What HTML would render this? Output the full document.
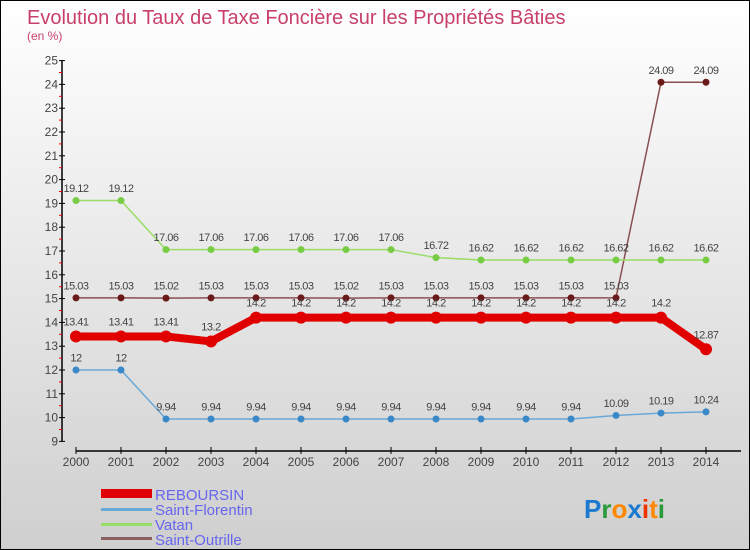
<!DOCTYPE html>
<html><head><meta charset="utf-8"><style>
body{margin:0}
#c{width:748px;height:548px;border:1px solid #000;background:linear-gradient(#fff,#cfcfcf);position:relative;overflow:hidden;font-family:"Liberation Sans",sans-serif}
</style></head><body>
<div id="c">
<svg id="s" width="748" height="548" xmlns="http://www.w3.org/2000/svg" style="position:absolute;left:0;top:0">
<text x="26" y="23" font-size="20" fill="#c8406a">Evolution du Taux de Taxe Foncière sur les Propriétés Bâties</text>
<text x="26" y="39" font-size="12" fill="#c8406a">(en %)</text>
<g id="axes"></g><g id="series"></g>
<g font-size="15" fill="#6666ee">
<rect x="100" y="488" width="51" height="9" fill="#e00000"/>
<text x="154" y="499">REBOURSIN</text>
<rect x="100" y="507" width="51" height="3" fill="#6aa8d8"/>
<text x="154" y="514">Saint-Florentin</text>
<rect x="100" y="522" width="51" height="3" fill="#99dd66"/>
<text x="154" y="529">Vatan</text>
<rect x="100" y="536" width="51" height="3" fill="#8a6060"/>
<text x="154" y="544">Saint-Outrille</text>
</g>
<text x="583" y="517" font-size="26" font-weight="bold"><tspan fill="#1a7ad0">P</tspan><tspan fill="#2a9a3a">r</tspan><tspan fill="#ff8800">o</tspan><tspan fill="#1a7ad0">x</tspan><tspan fill="#ee3300">i</tspan><tspan fill="#ff8800">t</tspan><tspan fill="#2a9a3a">i</tspan></text>
</svg>
</div>
<script>
const years=[2000,2001,2002,2003,2004,2005,2006,2007,2008,2009,2010,2011,2012,2013,2014];
const yTicks=[9,10,11,12,13,14,15,16,17,18,19,20,21,22,23,24,25];
const reboursin=[13.41,13.41,13.41,13.2,14.2,14.2,14.2,14.2,14.2,14.2,14.2,14.2,14.2,14.2,12.87];
const saintFlorentin=[12,12,9.94,9.94,9.94,9.94,9.94,9.94,9.94,9.94,9.94,9.94,10.09,10.19,10.24];
const vatan=[19.12,19.12,17.06,17.06,17.06,17.06,17.06,17.06,16.72,16.62,16.62,16.62,16.62,16.62,16.62];
const saintOutrille=[15.03,15.03,15.02,15.03,15.03,15.03,15.02,15.03,15.03,15.03,15.03,15.03,15.03,24.09,24.09];
const NS="http://www.w3.org/2000/svg";
const X=i=>75+i*45, Y=v=>440.4-(v-9)*23.8;
function mk(p,t,a){const e=document.createElementNS(NS,t);for(const k in a)e.setAttribute(k,a[k]);p.appendChild(e);return e;}
const ax=document.getElementById('axes'),sr=document.getElementById('series');
let e=mk(ax,'line',{x1:61,y1:59,x2:61,y2:440,stroke:'#000','stroke-width':1.5});

yTicks.forEach(v=>{mk(ax,'line',{x1:58,x2:64,y1:Y(v),y2:Y(v),stroke:'#000'});
 if(v<25)mk(ax,'line',{x1:58,x2:61,y1:Y(v+0.5),y2:Y(v+0.5),stroke:'#f00'});
 const t=mk(ax,'text',{x:57,y:Y(v)+4,'font-size':12,'text-anchor':'end',fill:'#444'});t.textContent=v;
 });
e=mk(ax,'line',{x1:75,y1:450,x2:740,y2:450,stroke:'#000','stroke-width':1.5});

years.forEach((y,i)=>{mk(ax,'line',{x1:X(i),x2:X(i),y1:446,y2:453,stroke:'#000'});
 const t=mk(ax,'text',{x:X(i),y:465,'font-size':12,'text-anchor':'middle',fill:'#444'});t.textContent=y;
 });
function series(d,name,line,dot,w,r){
 const g=mk(sr,'g',{});
 mk(g,'polyline',{points:d.map((v,i)=>X(i)+','+Y(v)).join(' '),fill:'none',stroke:line,'stroke-width':w});
 d.forEach((v,i)=>{const c=mk(g,'circle',{cx:X(i),cy:Y(v),r:r,fill:dot});
  
  const t=mk(g,'text',{x:X(i),y:Y(v)-(r+5),'font-size':11,'text-anchor':'middle',fill:'#444','letter-spacing':'-0.5'});t.textContent=v;
  });
}
series(saintOutrille,'saint-outrille','#8a5050','#6b1a1a',1.5,3.5);
series(vatan,'vatan','#99dd66','#77cc44',1.5,3.5);
series(saintFlorentin,'saint-florentin','#6aa8d8','#3a88c8',1.5,3.5);
series(reboursin,'reboursin','#e00000','#e00000',8,6);
</script>
</body></html>
